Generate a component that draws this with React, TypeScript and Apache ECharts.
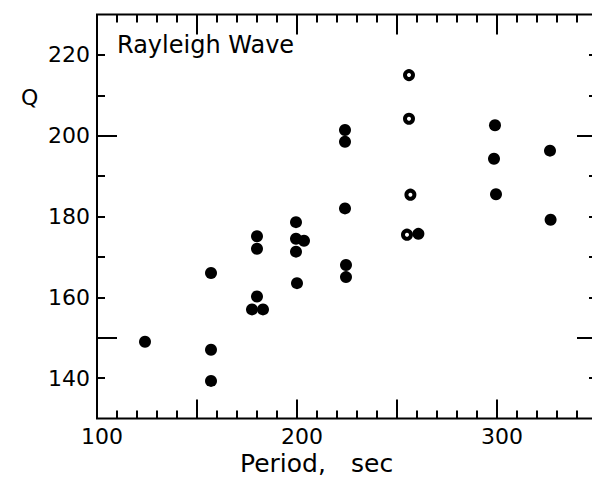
import React, { useEffect, useRef } from "react";
import * as echarts from "echarts";

// Filled circles
const filledPeriod = [124, 157, 157, 157, 180, 180, 180, 177.5, 183, 199.5, 199.5, 203.5, 199.5, 200, 224, 224, 224, 224.5, 224.5, 260.7, 299, 298.5, 299.5, 326.5, 326.8];
const filledQ = [149, 166, 147, 139.3, 175.1, 172, 160.2, 157, 157, 178.6, 174.5, 174, 171.3, 163.5, 201.4, 198.5, 182, 168, 165, 175.7, 202.6, 194.3, 185.5, 196.3, 179.2];
// Open circles
const openPeriod = [256, 256, 256.7, 255];
const openQ = [215, 204.2, 185.4, 175.5];

const xLabelValues = [100, 200, 300];
const yLabelValues = [140, 160, 180, 200, 220];
const xMajorTicks = [150, 200, 250, 300];
const xMinorTicks = [110, 120, 130, 140, 160, 170, 180, 190, 210, 220, 230, 240, 260, 270, 280, 290, 310, 320, 330, 340];
const yMajorTicks = [150, 200];
const yMinorTicks = [140, 160, 170, 180, 190, 210, 220];

const FONT = '"DejaVu Sans", sans-serif';
const X_MIN = 100, X_MAX = 350, Y_MIN = 130, Y_MAX = 230;

function tickAxis(position: string, min: number, max: number, ticks: number[], len: number, labels?: number[], labelOpts?: any) {
  return {
    type: "value",
    position,
    min,
    max,
    splitLine: { show: false },
    axisLine: { show: false },
    axisTick: {
      show: true,
      inside: true,
      length: len,
      customValues: ticks,
      lineStyle: { color: "#000", width: 2 },
    },
    axisLabel: labels
      ? { show: true, customValues: labels, color: "#000", fontSize: 22, fontFamily: FONT, ...labelOpts }
      : { show: false },
  };
}

export default function App() {
  const ref = useRef<HTMLDivElement>(null);
  useEffect(() => {
    if (!ref.current) return;
    const chart = echarts.init(ref.current, null, { renderer: "svg" });
    chart.setOption({
      animation: false,
      backgroundColor: "#fff",
      grid: {
        left: 97,
        top: 14.5,
        width: 500,
        height: 404,
        show: true,
        borderColor: "#000",
        borderWidth: 2,
        backgroundColor: "transparent",
      },
      xAxis: [
        tickAxis("bottom", X_MIN, X_MAX, xMinorTicks, 8, xLabelValues, { margin: 9, lineHeight: 18, padding: [0, 0, 0, 10] }),
        tickAxis("bottom", X_MIN, X_MAX, xMajorTicks, 19),
        tickAxis("top", X_MIN, X_MAX, xMinorTicks, 8),
        tickAxis("top", X_MIN, X_MAX, xMajorTicks, 20),
      ],
      yAxis: [
        tickAxis("left", Y_MIN, Y_MAX, yMinorTicks, 8, yLabelValues, { margin: 7 }),
        tickAxis("left", Y_MIN, Y_MAX, yMajorTicks, 20),
        tickAxis("right", Y_MIN, Y_MAX, yMinorTicks, 8),
        tickAxis("right", Y_MIN, Y_MAX, yMajorTicks, 20),
      ],
      series: [
        {
          type: "scatter",
          xAxisIndex: 0,
          yAxisIndex: 0,
          symbol: "circle",
          symbolSize: 12,
          itemStyle: { color: "#000", opacity: 1 },
          data: filledPeriod.map((p, i) => [p, filledQ[i]]),
        },
        {
          type: "scatter",
          xAxisIndex: 0,
          yAxisIndex: 0,
          symbol: "circle",
          symbolSize: 8,
          itemStyle: { color: "#fff", borderColor: "#000", borderWidth: 4, opacity: 1 },
          data: openPeriod.map((p, i) => [p, openQ[i]]),
        },
      ],
      graphic: [
        {
          type: "text",
          left: 117,
          top: 33,
          style: { text: "Rayleigh Wave", fill: "#000", font: `24px ${FONT}` },
        },
        {
          type: "text",
          left: 21,
          top: 86,
          style: { text: "Q", fill: "#000", font: `22px ${FONT}` },
        },
        {
          type: "text",
          left: 240,
          top: 451,
          style: { text: "Period,", fill: "#000", font: `25px ${FONT}` },
        },
        {
          type: "text",
          left: 351,
          top: 451,
          style: { text: "sec", fill: "#000", font: `25px ${FONT}` },
        },
      ],
    });
    return () => chart.dispose();
  }, []);
  return (
    <div style={{ position: "fixed", left: 0, top: 0, width: 592, height: 478, overflow: "hidden", background: "#fff" }}>
      <div ref={ref} style={{ width: 600, height: 478 }} />
    </div>
  );
}
